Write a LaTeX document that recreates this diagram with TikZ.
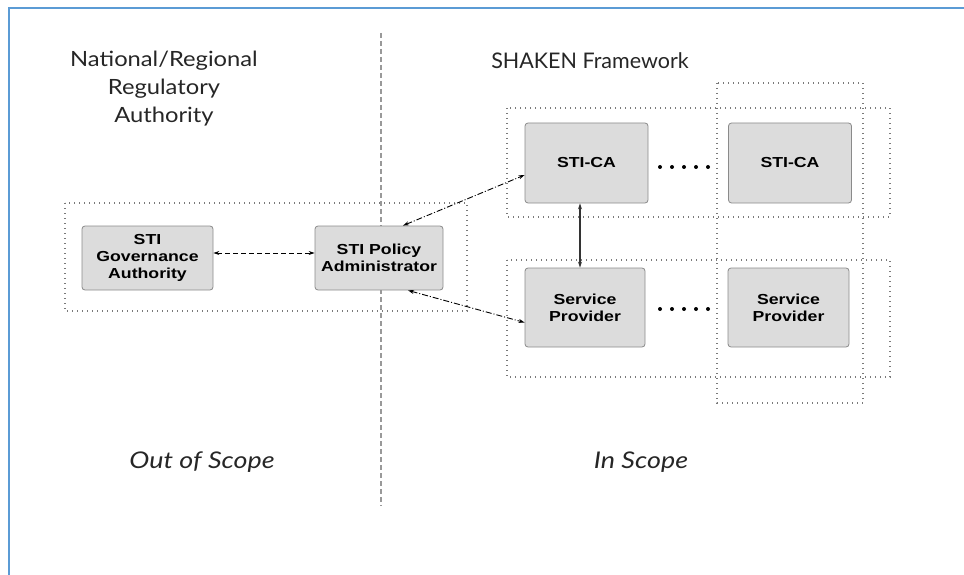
\documentclass[tikz,border=0pt]{standalone}
\usepackage{fontspec}
\setmainfont{Lato}
\newfontfamily\boxfont[FakeStretch=1.22]{Liberation Sans}
\newfontfamily\titlefont[FakeStretch=1.13]{Lato}
\newfontfamily\shakenfont{Lato}
\newfontfamily\scopefont[FakeStretch=1.17]{Lato}
\usetikzlibrary{arrows.meta,calc}
\definecolor{bordblue}{HTML}{5B9BD5}
\definecolor{boxfill}{HTML}{DCDCDC}
\definecolor{boxline}{HTML}{8A8A8A}
\definecolor{dotgray}{HTML}{7A7A7A}
\tikzset{
  entity/.style={draw=boxline, fill=boxfill, rounded corners=3pt, line width=0.8pt,
    minimum width=123pt, minimum height=80pt, align=center,
    font=\boxfont\bfseries\fontsize{14.5}{17}\selectfont, inner sep=2pt},
  group/.style={draw=dotgray, line width=1.1pt, dash pattern=on 1pt off 4pt},
  divider/.style={draw=gray!80, line width=1.2pt, dash pattern=on 5pt off 3pt},
  title/.style={align=center, font=\titlefont\fontsize{21}{28}\selectfont, text=black!85},
  scope/.style={font=\scopefont\itshape\fontsize{23}{25}\selectfont, text=black!85},
  bitip/.style={{Stealth[length=6pt,width=4pt]}-{Stealth[length=6pt,width=4pt]}},
  dashedarrow/.style={bitip, line width=0.9pt, dash pattern=on 5pt off 3pt},
  dasharrow/.style={bitip, line width=0.9pt, dash pattern=on 6pt off 2pt on 1pt off 2pt},
  solidarrow/.style={bitip, line width=1.2pt, draw=black!80},
  bigdot/.style={circle, fill=black, inner sep=0pt, minimum size=4pt}
}
\begin{document}
\begin{tikzpicture}[x=1pt,y=-1pt]
\useasboundingbox (0,0) rectangle (964,575);
% frame
\draw[bordblue, line width=2pt] (9,575) -- (9,8) -- (964,8);
% divider
\coordinate (dtop) at (381,33);
\coordinate (dbot) at (381,506);
\draw[divider] (dtop) -- (dbot);
% titles
\node[title] (nra) at (164,89) {National/Regional\\Regulatory\\Authority};
\node[title, font=\shakenfont\fontsize{21.5}{28}\selectfont] (shk) at (590,61) {SHAKEN Framework};
\node[scope] (oos) at (202,462) {Out of Scope};
\node[scope] (ins) at (641,462) {In Scope};
% group boxes
\draw[group] (65,203) rectangle (467,311);
\draw[group] (507,108) rectangle (890,217);
\draw[group] (507,260) rectangle (890,377);
\draw[group] (717,83) rectangle (863,403);
% entities
\node[entity, minimum width=131pt, minimum height=64pt] (ga) at (147.5,258) {STI\\Governance\\Authority};
\node[entity, minimum width=128pt, minimum height=64pt] (pa) at (379,258) {STI Policy\\Administrator};
\node[entity] (ca1) at (586.5,163) {STI-CA};
\node[entity] (ca2) at (790,163) {STI-CA};
\node[entity, minimum width=120pt, minimum height=79pt] (sp1) at (585,307.5) {Service\\Provider};
\node[entity, minimum width=121pt, minimum height=79pt] (sp2) at (788.5,307.5) {Service\\Provider};
% connectors
\draw[dashedarrow] ([yshift=5pt]ga.east) -- ([yshift=5pt]pa.west);
\draw[dasharrow] ([xshift=24pt]pa.north) -- ([yshift=-12pt]ca1.west);
\draw[dasharrow] ([xshift=29pt]pa.south) -- ([yshift=-15pt]sp1.west);
\draw[solidarrow] ([xshift=-6.5pt]ca1.south) -- ([xshift=-5pt]sp1.north);
% ellipsis dots
\foreach \i in {0,...,4} {
  \node[bigdot] (cadot\i) at (660+12*\i,167) {};
  \node[bigdot] (spdot\i) at (660+12*\i,309) {};
}
\end{tikzpicture}
\end{document}
